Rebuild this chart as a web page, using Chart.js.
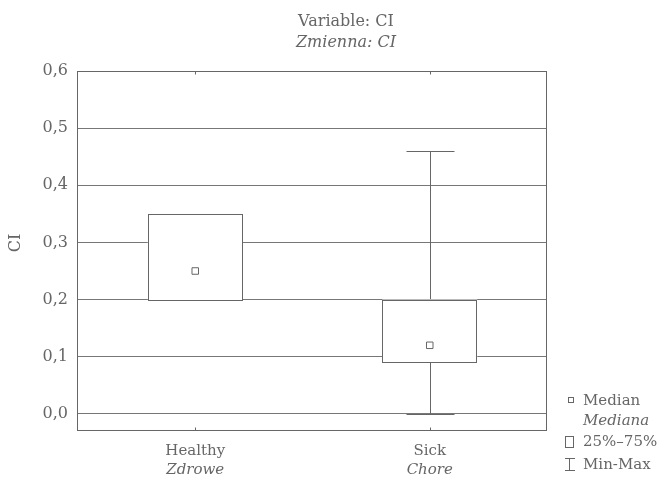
<!DOCTYPE html>
<html>
<head>
<meta charset="utf-8">
<script src="https://cdn.jsdelivr.net/npm/chart.js@4"></script>
<style>
html,body{margin:0;padding:0;background:#fff;}
#wrap{width:657px;height:479px;position:relative;}
</style>
</head>
<body>
<div id="wrap"><canvas id="c" width="657" height="479"></canvas></div>
<script>
// ---- data ----
const categories = ["Healthy", "Sick"];
const categoriesPl = ["Zdrowe", "Chore"];
const q1Values = [0.20, 0.09];
const q3Values = [0.35, 0.20];
const medianValues = [0.25, 0.12];
const minValues = [0.20, 0.00];
const maxValues = [0.35, 0.46];
const yTickValues = [0.0, 0.1, 0.2, 0.3, 0.4, 0.5, 0.6];
const titleLines = ["Variable: CI", "Zmienna: CI"];
const yAxisTitle = "CI";
const legendLabels = ["Median", "Mediana", "25%–75%", "Min-Max"];

const GRAY = '#666666';
const GRID = '#777777';
const TEXT = '#666666';
const FONT = '"DejaVu Serif", "Liberation Serif", serif';
const FS = 15;

const boxData = categories.map((c, i) => [q1Values[i], q3Values[i]]);

const boxPlugin = {
  id: 'boxExtras',
  beforeDatasetsDraw(chart) {
    const ctx = chart.ctx, a = chart.chartArea;
    const x = chart.scales.x, y = chart.scales.y;
    ctx.save();
    ctx.strokeStyle = GRAY;
    ctx.lineWidth = 1;
    // frame
    const L = Math.round(a.left) - 0.5, R = Math.round(a.right) - 0.5;
    const T = Math.round(a.top) + 0.5, B = Math.round(a.bottom) - 0.5;
    ctx.strokeRect(L, T, R - L, B - T);
    // inside ticks top and bottom
    categories.forEach((c, i) => {
      const px = Math.round(x.getPixelForValue(i)) + 0.5;
      ctx.beginPath();
      ctx.moveTo(px, T); ctx.lineTo(px, T + 3);
      ctx.moveTo(px, B); ctx.lineTo(px, B - 3);
      ctx.stroke();
    });
    // whiskers
    const meta = chart.getDatasetMeta(1);
    categories.forEach((c, i) => {
      const bar = meta.data[i];
      const px = Math.round(bar.x) + 0.5;
      const capHalf = Math.round(bar.width * 0.25);
      const yMin = Math.round(y.getPixelForValue(minValues[i])) + 0.5;
      const yMax = Math.round(y.getPixelForValue(maxValues[i])) + 0.5;
      ctx.beginPath();
      ctx.moveTo(px, yMin); ctx.lineTo(px, yMax);
      ctx.moveTo(px - capHalf, yMin); ctx.lineTo(px + capHalf, yMin);
      ctx.moveTo(px - capHalf, yMax); ctx.lineTo(px + capHalf, yMax);
      ctx.stroke();
    });
    ctx.restore();
  },
  afterDatasetDraw(chart, args) {
    if (args.index !== 1) return;
    const ctx = chart.ctx;
    ctx.save();
    ctx.strokeStyle = GRAY;
    ctx.lineWidth = 1;
    args.meta.data.forEach(bar => {
      const l = Math.round(bar.x - bar.width / 2) + 0.5;
      const r = Math.round(bar.x + bar.width / 2) - 0.5;
      const t = Math.round(Math.min(bar.y, bar.base)) + 0.5;
      const b = Math.round(Math.max(bar.y, bar.base)) + 0.5;
      ctx.fillStyle = '#ffffff';
      ctx.fillRect(l, t, r - l, b - t);
      ctx.strokeRect(l, t, r - l, b - t);
    });
    ctx.restore();
  },
  afterDraw(chart) {
    const ctx = chart.ctx;
    ctx.save();
    ctx.fillStyle = TEXT;
    ctx.textAlign = 'center';
    ctx.textBaseline = 'alphabetic';
    ctx.font = `16px ${FONT}`;
    ctx.fillText(titleLines[0], 346, 26);
    ctx.font = `italic 16px ${FONT}`;
    ctx.fillText(titleLines[1], 346, 47);
    // y axis title
    ctx.save();
    ctx.translate(16, 243);
    ctx.rotate(-Math.PI / 2);
    ctx.textBaseline = 'middle';
    ctx.font = `16px ${FONT}`;
    ctx.fillText(yAxisTitle, 0, 0);
    ctx.restore();
    // legend
    ctx.textAlign = 'left';
    ctx.textBaseline = 'alphabetic';
    ctx.strokeStyle = GRAY;
    ctx.lineWidth = 1;
    ctx.font = `${FS}px ${FONT}`;
    ctx.strokeRect(568.5, 397.5, 5, 5);
    ctx.fillText(legendLabels[0], 583, 405);
    ctx.font = `italic ${FS}px ${FONT}`;
    ctx.fillText(legendLabels[1], 583, 425);
    ctx.font = `${FS}px ${FONT}`;
    ctx.strokeRect(565.5, 436.5, 8, 11);
    ctx.fillText(legendLabels[2], 583, 446);
    ctx.beginPath();
    ctx.moveTo(565, 458.5); ctx.lineTo(575, 458.5);
    ctx.moveTo(569.5, 458.5); ctx.lineTo(569.5, 470.5);
    ctx.moveTo(565, 470.5); ctx.lineTo(575, 470.5);
    ctx.stroke();
    ctx.fillText(legendLabels[3], 583, 469);
    ctx.restore();
  }
};

new Chart(document.getElementById('c'), {
  type: 'bar',
  data: {
    labels: categories,
    datasets: [
      {
        type: 'line',
        label: 'Median',
        data: medianValues,
        showLine: false,
        pointStyle: 'rect',
        pointRadius: 4.6,
        pointBorderWidth: 1,
        pointBackgroundColor: '#ffffff',
        pointBorderColor: GRAY,
        order: 0
      },
      {
        label: '25%-75%',
        data: boxData,
        backgroundColor: '#ffffff',
        borderWidth: 0,
        categoryPercentage: 1.0,
        barPercentage: 0.405,
        order: 1
      }
    ]
  },
  options: {
    responsive: false,
    animation: false,
    devicePixelRatio: 1,
    layout: { padding: { left: 0, right: 110, top: 71, bottom: 0 } },
    plugins: { legend: { display: false }, tooltip: { enabled: false }, title: { display: false } },
    scales: {
      x: {
        type: 'category',
        position: 'bottom',
        grid: { display: false, drawTicks: false },
        border: { display: false },
        ticks: { color: TEXT, font: { family: FONT, size: FS }, padding: 11 },
        afterFit(s) { s.height = 30; }
      },
      x2: {
        type: 'category',
        position: 'bottom',
        labels: categoriesPl,
        grid: { display: false, drawTicks: false },
        border: { display: false },
        ticks: { color: TEXT, font: { family: FONT, size: FS, style: 'italic' }, padding: 0 },
        afterFit(s) { s.height = 18; }
      },
      y: {
        type: 'linear',
        min: -0.03,
        max: 0.6,
        afterBuildTicks(s) { s.ticks = yTickValues.map(v => ({ value: v })); },
        grid: { color: GRID, lineWidth: 1, drawTicks: false },
        border: { display: false },
        ticks: {
          color: TEXT, font: { family: FONT, size: 16 }, padding: 10,
          callback: (v) => Number(v).toFixed(1).replace('.', ',')
        },
        afterFit(s) { s.width = 78; }
      }
    }
  },
  plugins: [boxPlugin]
});
</script>
</body>
</html>
